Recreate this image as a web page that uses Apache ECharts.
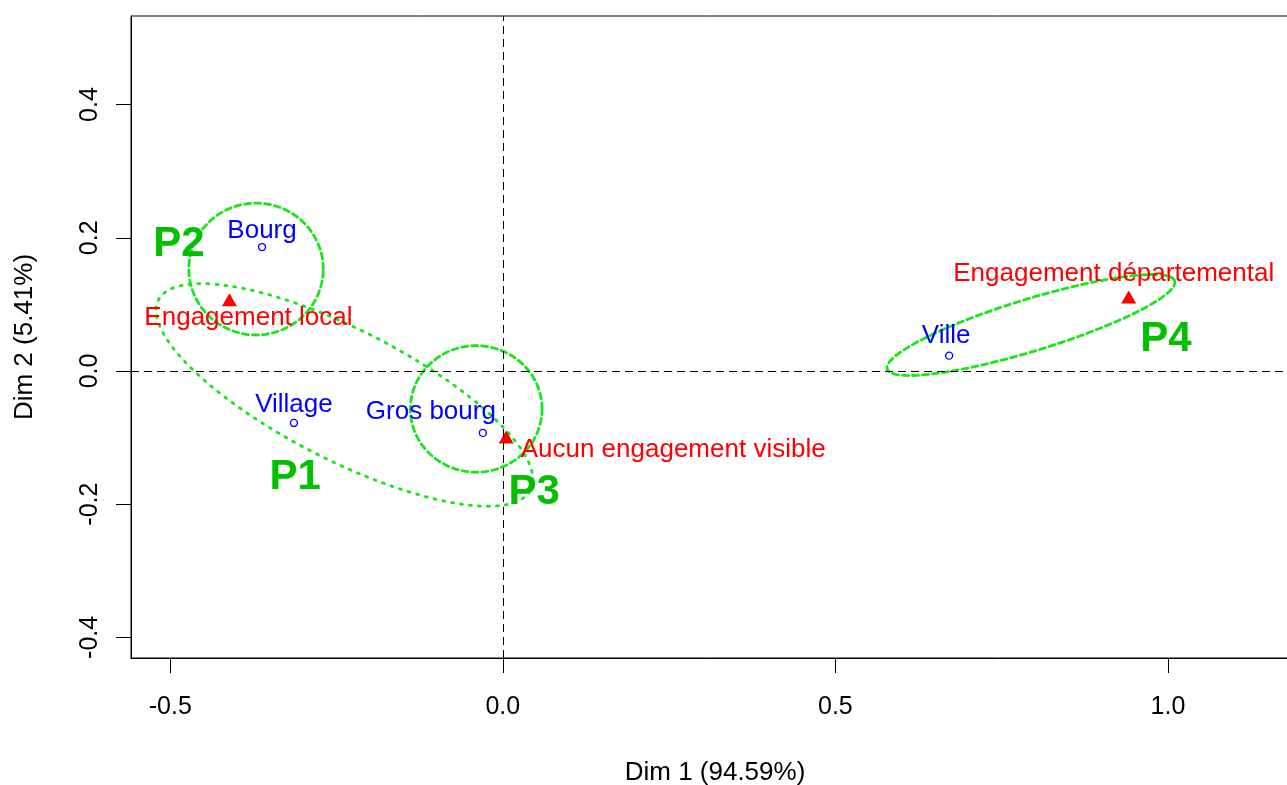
<!DOCTYPE html>
<html>
<head>
<meta charset="utf-8">
<script src="https://cdn.jsdelivr.net/npm/echarts@6/dist/echarts.min.js"></script>
<style>html,body{margin:0;padding:0;background:#fff}#c{width:1287px;height:785px}</style>
</head>
<body>
<div id="c"></div>
<script>
// ---- data ----
const rowNames = ['Bourg', 'Village', 'Gros bourg', 'Ville'];
const rowX = [-0.362, -0.314, -0.030, 0.671];
const rowY = [0.186, -0.078, -0.093, 0.023];

const colNames = ['Engagement local', 'Aucun engagement visible', 'Engagement départemental'];
const colX = [-0.411, 0.005, 0.941];
const colY = [0.107, -0.099, 0.111];

const groupNames = ['P1', 'P2', 'P3', 'P4'];
const groupX = [-0.312, -0.487, 0.047, 0.997];
const groupY = [-0.160, 0.190, -0.182, 0.047];

const ellipseCX = [-0.238, -0.371, -0.040, 0.794];
const ellipseCY = [-0.036, 0.153, -0.057, 0.069];
const ellipseA = [0.314, 0.101, 0.099, 0.226];
const ellipseB = [0.098, 0.099, 0.095, 0.039];
const ellipseAngle = [-27, 0, 0, 17];

const xTicks = [-0.5, 0.0, 0.5, 1.0];
const yTicks = [-0.4, -0.2, 0.0, 0.2, 0.4];
const xName = 'Dim 1 (94.59%)';
const yName = 'Dim 2 (5.41%)';

// ---- presentation ----
const FONT = 'Liberation Sans, Arial, Helvetica, sans-serif';
const labelOffsets = {
  'Bourg': [0, -16], 'Village': [0, -18], 'Gros bourg': [-52, -21], 'Ville': [-3, -20],
  'Engagement local': [19, 18], 'Aucun engagement visible': [167, 13], 'Engagement départemental': [-15, -23]
};
const ellipseDash = [[2, 7], [6, 4], [6, 4], [6, 4]];

const chart = echarts.init(document.getElementById('c'), null, {renderer: 'canvas'});

const rowData = rowNames.map((n, i) => ({
  value: [rowX[i], rowY[i]], name: n,
  label: {offset: labelOffsets[n]}
}));
const colData = colNames.map((n, i) => ({
  value: [colX[i], colY[i]], name: n,
  label: {offset: labelOffsets[n]}
}));
const groupData = groupNames.map((n, i) => ({value: [groupX[i], groupY[i]], name: n}));
const ellData = groupNames.map((n, i) => [ellipseCX[i], ellipseCY[i], i]);

const option = {
  animation: false,
  grid: {left: 131, top: 16, width: 1168, height: 642, outerBoundsMode: 'none', containLabel: false,
         show: true, borderColor: '#000', borderWidth: 1, backgroundColor: 'transparent'},
  xAxis: {
    type: 'value', min: -0.559, max: 1.197,
    splitLine: {show: false},
    axisLine: {show: true, onZero: false, lineStyle: {color: '#000', width: 1}},
    axisTick: {show: true, length: 15, inside: false, customValues: xTicks, lineStyle: {color: '#000'}},
    axisLabel: {customValues: xTicks, formatter: v => v.toFixed(1), fontFamily: FONT, fontSize: 25, color: '#000', margin: 37},
    name: xName, nameLocation: 'middle', nameGap: 102,
    nameTextStyle: {fontFamily: FONT, fontSize: 26, color: '#000'}
  },
  yAxis: {
    type: 'value', min: -0.431, max: 0.533,
    splitLine: {show: false},
    axisLine: {show: true, onZero: false, lineStyle: {color: '#000', width: 1}},
    axisTick: {show: true, length: 15, inside: false, customValues: yTicks, lineStyle: {color: '#000'}},
    axisLabel: {customValues: yTicks, formatter: v => v.toFixed(1), fontFamily: FONT, fontSize: 25, color: '#000', margin: 28, rotate: 90},
    name: yName, nameLocation: 'middle', nameGap: 93, nameRotate: 90,
    nameTextStyle: {fontFamily: FONT, fontSize: 26, color: '#000'}
  },
  series: [
    {
      type: 'custom', name: 'ellipses', data: ellData, encode: {x: 0, y: 1}, z: 3,
      renderItem: function (params, api) {
        const i = api.value(2);
        const cx = ellipseCX[i], cy = ellipseCY[i], a = ellipseA[i], b = ellipseB[i];
        const t = ellipseAngle[i] * Math.PI / 180;
        const pts = [];
        for (let k = 0; k <= 180; k++) {
          const th = 2 * Math.PI * k / 180;
          const ex = a * Math.cos(th), ey = b * Math.sin(th);
          const dx = cx + ex * Math.cos(t) - ey * Math.sin(t);
          const dy = cy + ex * Math.sin(t) + ey * Math.cos(t);
          pts.push(api.coord([dx, dy]));
        }
        return {
          type: 'polyline', shape: {points: pts},
          style: {fill: null, stroke: '#19e619', lineWidth: 2.8, lineDash: ellipseDash[i], lineCap: 'round'}
        };
      }
    },
    {
      type: 'scatter', name: 'rows', data: rowData, symbol: 'circle', symbolSize: 7, z: 4,
      itemStyle: {color: 'rgba(0,0,0,0)', borderColor: '#0000ff', borderWidth: 1.4, opacity: 1},
      label: {show: true, formatter: '{b}', position: 'inside', color: '#0000ff', opacity: 1, fontFamily: FONT, fontSize: 26},
      emphasis: {disabled: true},
      markLine: {
        silent: true, symbol: 'none', label: {show: false},
        lineStyle: {color: '#000', type: [8, 5], width: 1, opacity: 1},
        data: [{xAxis: 0}, {yAxis: 0}]
      }
    },
    {
      type: 'scatter', name: 'cols', data: colData, symbol: 'triangle', symbolSize: [15, 13], z: 4,
      itemStyle: {color: '#ff0000', opacity: 1},
      label: {show: true, formatter: '{b}', position: 'inside', color: '#ff0000', opacity: 1, fontFamily: FONT, fontSize: 26},
      emphasis: {disabled: true}
    },
    {
      type: 'scatter', name: 'groups', data: groupData, symbolSize: 0, z: 5,
      itemStyle: {opacity: 1},
      label: {show: true, formatter: '{b}', position: 'inside', color: '#00c000', opacity: 1, fontFamily: FONT, fontSize: 42, fontWeight: 'bold'},
      emphasis: {disabled: true}
    }
  ]
};
chart.setOption(option);
</script>
</body>
</html>
